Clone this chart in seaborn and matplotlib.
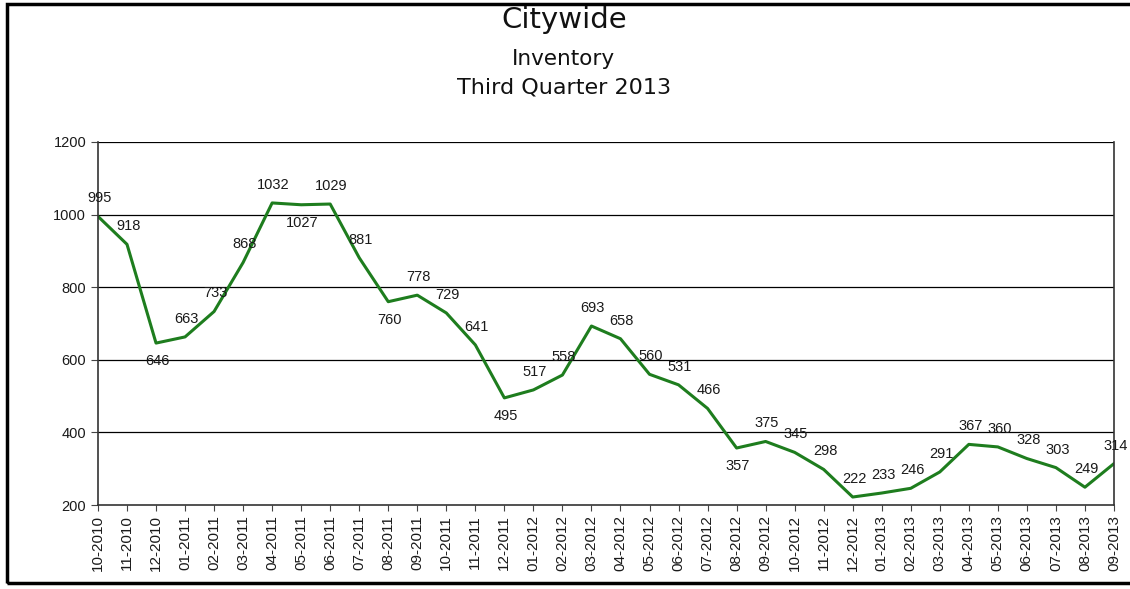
import numpy as np
import pandas as pd
import matplotlib
matplotlib.use("Agg")
import matplotlib.pyplot as plt
import seaborn as sns
from matplotlib.patches import Rectangle

sns.set_style("white")
plt.rcParams['font.family'] = ['Liberation Sans', 'DejaVu Sans']

# data
months = ["10-2010", "11-2010", "12-2010", "01-2011", "02-2011", "03-2011",
          "04-2011", "05-2011", "06-2011", "07-2011", "08-2011", "09-2011",
          "10-2011", "11-2011", "12-2011", "01-2012", "02-2012", "03-2012",
          "04-2012", "05-2012", "06-2012", "07-2012", "08-2012", "09-2012",
          "10-2012", "11-2012", "12-2012", "01-2013", "02-2013", "03-2013",
          "04-2013", "05-2013", "06-2013", "07-2013", "08-2013", "09-2013"]
inventory = [995, 918, 646, 663, 733, 868, 1032, 1027, 1029, 881, 760, 778,
             729, 641, 495, 517, 558, 693, 658, 560, 531, 466, 357, 375,
             345, 298, 222, 233, 246, 291, 367, 360, 328, 303, 249, 314]
# labels drawn under the line instead of above
below = {2, 7, 10, 14, 22}

df = pd.DataFrame({"pos": np.arange(len(months)), "month": months, "inventory": inventory})

fig = plt.figure(figsize=(11.3, 5.89), dpi=100)
ax = fig.add_axes([0.0867, 0.1426, 0.8991, 0.6164])

sns.lineplot(data=df, x="pos", y="inventory", color="#1e7d1e", linewidth=2.2, ax=ax)

for i, v in enumerate(inventory):
    dy = -13 if i in below else 13
    ax.annotate(str(v), (i, v), xytext=(1, dy), textcoords="offset points",
                ha="center", va="center", fontsize=10.5, color="#1a1a1a")

ax.set_xlim(0, len(months) - 1)
ax.set_ylim(200, 1200)
ax.set_yticks([200, 400, 600, 800, 1000, 1200])
ax.set_xticks(df["pos"])
ax.set_xticklabels(months, rotation=90, fontsize=11)
ax.tick_params(axis="y", labelsize=10.5, length=5, direction="out", left=True,
               color="#444444", labelcolor="#1a1a1a")
ax.tick_params(axis="x", length=4, direction="out", bottom=True,
               color="#444444", labelcolor="#1a1a1a")
ax.set_xlabel("")
ax.set_ylabel("")

for y in [400, 600, 800, 1000, 1200]:
    ax.axhline(y, color="black", linewidth=0.9, zorder=0)
for side in ["left", "bottom", "right"]:
    ax.spines[side].set_color("#333333")
    ax.spines[side].set_linewidth(1.2)
ax.spines["top"].set_visible(False)

fig.text(0.499, 0.966, "Citywide", ha="center", va="center", fontsize=21,
         family="DejaVu Sans", color="#111111")
fig.text(0.499, 0.899, "Inventory", ha="center", va="center", fontsize=15.5,
         family="DejaVu Sans", color="#111111")
fig.text(0.499, 0.852, "Third Quarter 2013", ha="center", va="center", fontsize=16,
         family="DejaVu Sans", color="#111111")

# outer frame
fig.patches.append(Rectangle((0.006, 0.01), 1.2, 0.984, transform=fig.transFigure,
                             fill=False, edgecolor="black", linewidth=2.5))

fig.savefig("out.png", dpi=100)
